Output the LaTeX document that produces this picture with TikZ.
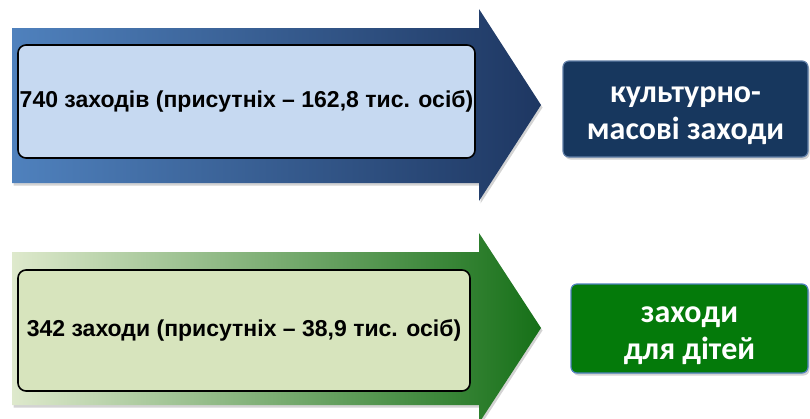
\documentclass[tikz,border=0pt]{standalone}
\usepackage{fontspec}
\setmainfont{Liberation Sans}
\newfontfamily\calibrifont{Carlito}
\usepackage{tikz}
\usetikzlibrary{shapes,arrows,positioning,shadows}
\definecolor{arrowblueL}{RGB}{79,129,189}
\definecolor{arrowblueR}{RGB}{30,55,98}
\definecolor{boxblue}{RGB}{198,217,241}
\definecolor{navybox}{RGB}{23,55,94}
\definecolor{navyedge}{RGB}{95,125,165}
\definecolor{arrowgreenL}{RGB}{222,233,204}
\definecolor{arrowgreenM}{RGB}{155,187,89}
\definecolor{arrowgreenR}{RGB}{22,112,24}
\definecolor{boxgreen}{RGB}{215,228,189}
\definecolor{greenbox}{RGB}{4,122,10}
\definecolor{greenedge}{RGB}{79,129,189}

\begin{document}
\begin{tikzpicture}[x=1pt,y=-1pt,
  softshadow/.style={drop shadow={opacity=0.35,shadow xshift=1.5pt,shadow yshift=-2.5pt}},
  countbox/.style={draw=black,line width=1.6pt,rounded corners=8pt,font=\bfseries\fontsize{23}{27}\selectfont,inner sep=0pt},
  kindbox/.style={rounded corners=6pt,line width=1.2pt,inner sep=0pt,softshadow},
  kindtext/.style={text=white,align=center,inner sep=0pt,yshift=-7pt,
    font=\calibrifont\bfseries\fontsize{32}{37}\selectfont}]
\useasboundingbox (0,0) rectangle (810,418);
% Culture arrow
\path[left color=arrowblueL,right color=arrowblueR,softshadow]
  (12,28) -- (479,28) -- (479,9) -- (541,105) -- (479,201) -- (479,183) -- (12,183) -- cycle;
\node[countbox,fill=boxblue,minimum width=457pt,minimum height=113pt] (culturecount) at (246.5,101.5)
  {740 заходів (присутніх – 162,8 тис. осіб)};
\node[kindbox,fill=navybox,draw=navyedge,minimum width=245pt,minimum height=96pt,
  label={[kindtext]center:{культурно-\\масові заходи}}] (culturekind) at (685.5,109) {};
% Children arrow
\path[left color=arrowgreenL,middle color=arrowgreenM,right color=arrowgreenR,softshadow]
  (12,252) -- (479,252) -- (479,233) -- (541,328) -- (479,423) -- (479,405) -- (12,405) -- cycle;
\node[countbox,fill=boxgreen,minimum width=452pt,minimum height=121pt] (childcount) at (244,330.5)
  {342 заходи (присутніх – 38,9 тис. осіб)};
\node[kindbox,fill=greenbox,draw=greenedge,minimum width=237pt,minimum height=89pt,
  label={[kindtext]center:{заходи\\для дітей}}] (childkind) at (689.5,328.5) {};
\end{tikzpicture}
\end{document}
